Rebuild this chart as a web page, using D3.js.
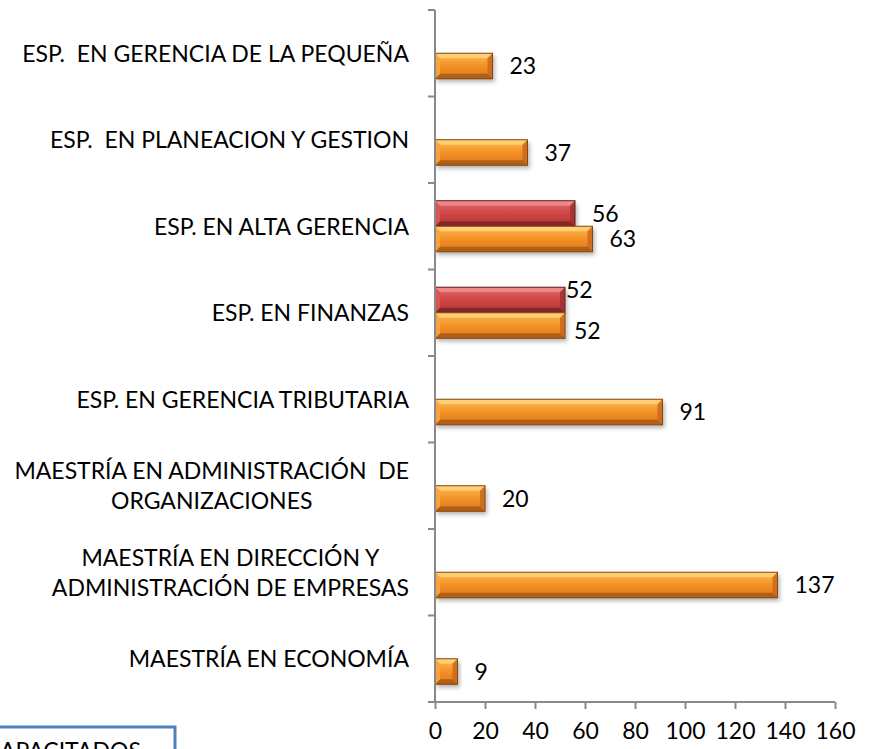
<!DOCTYPE html>
<html>
<head>
<meta charset="utf-8">
<script src="https://cdn.jsdelivr.net/npm/d3@7"></script>
<style>
  body { margin: 0; background: #fff; }
  svg { display: block; font-family: Lato, "Open Sans", sans-serif; }
</style>
</head>
<body>
<div id="chart"></div>
<script>
// categories, top to bottom (line breaks as in the original)
var categories = [
    "ESP.  EN GERENCIA DE LA PEQUEÑA",
    "ESP.  EN PLANEACION Y GESTION",
    "ESP. EN ALTA GERENCIA",
    "ESP. EN FINANZAS",
    "ESP. EN GERENCIA TRIBUTARIA",
    "MAESTRÍA EN ADMINISTRACIÓN  DE\nORGANIZACIONES",
    "MAESTRÍA EN DIRECCIÓN Y\nADMINISTRACIÓN DE EMPRESAS",
    "MAESTRÍA EN ECONOMÍA"
];
// red series (upper bar) - only two programs have a value
var redValues = [null, null, 56, 52, null, null, null, null];
// orange series (lower bar)
var orangeValues = [23, 37, 63, 52, 91, 20, 137, 9];
var xTicks = [0, 20, 40, 60, 80, 100, 120, 140, 160];
var legendText = "CAPACITADOS";

var svgWidth = 872, svgHeight = 749;
var margin = { top: 10, right: 37, bottom: 47, left: 435 };
var chartWidth = svgWidth - margin.left - margin.right;
var chartHeight = svgHeight - margin.top - margin.bottom;
var fontSize = "23px";

var svg = d3.select("#chart").append("svg")
    .attr("width", svgWidth)
    .attr("height", svgHeight);

// gradients + shadow
var defs = svg.append("defs");
var palettes = {
    orange: { g: ["#FDBA52", "#F39226", "#DB761C"], top: "#FFD47E", bottom: "#A95B17",
              left: "#F8A640", right: "#C9691B", stroke: "#86470F" },
    red:    { g: ["#E46868", "#D04646", "#B43535"], top: "#F08E8E", bottom: "#7E2626",
              left: "#DA5656", right: "#A03131", stroke: "#6A1E1E" }
};
Object.keys(palettes).forEach(function(k) {
    var grad = defs.append("linearGradient").attr("id", "grad-" + k)
        .attr("x1", 0).attr("y1", 0).attr("x2", 0).attr("y2", 1);
    grad.append("stop").attr("offset", "0%").attr("stop-color", palettes[k].g[0]);
    grad.append("stop").attr("offset", "50%").attr("stop-color", palettes[k].g[1]);
    grad.append("stop").attr("offset", "100%").attr("stop-color", palettes[k].g[2]);
});
var shadow = defs.append("filter").attr("id", "shadow")
    .attr("x", "-10%").attr("y", "-30%").attr("width", "130%").attr("height", "180%");
shadow.append("feDropShadow").attr("dx", 2).attr("dy", 3)
    .attr("stdDeviation", 2).attr("flood-color", "#000").attr("flood-opacity", 0.3);

var chartGroup = svg.append("g")
    .attr("transform", `translate(${margin.left}, ${margin.top})`);

// scales
var xLinearScale = d3.scaleLinear().domain([0, 160]).range([0, chartWidth]);
var yBand = d3.scaleBand().domain(categories).range([0, chartHeight]);
var barH = yBand.bandwidth() * 0.295;

// bars
function drawBar(g, value, yTop, pal) {
    var x0 = 0, x1 = xLinearScale(value), y0 = yTop, y1 = yTop + barH;
    var b = Math.min(5, (x1 - x0) / 2);
    var bar = g.append("g").attr("filter", "url(#shadow)");
    bar.append("rect").attr("x", x0).attr("y", y0).attr("width", x1 - x0).attr("height", barH)
        .attr("fill", "url(#grad-" + pal + ")");
    var p = palettes[pal];
    var facets = [
        [[x0, y0], [x1, y0], [x1 - b, y0 + b], [x0 + b, y0 + b], p.top],
        [[x0, y1], [x1, y1], [x1 - b, y1 - b], [x0 + b, y1 - b], p.bottom],
        [[x0, y0], [x0 + b, y0 + b], [x0 + b, y1 - b], [x0, y1], p.left],
        [[x1, y0], [x1 - b, y0 + b], [x1 - b, y1 - b], [x1, y1], p.right]
    ];
    facets.forEach(function(f) {
        bar.append("polygon")
            .attr("points", f.slice(0, 4).map(d => d.join(",")).join(" "))
            .attr("fill", f[4]).attr("opacity", 0.85);
    });
    g.append("rect").attr("x", x0).attr("y", y0).attr("width", x1 - x0).attr("height", barH)
        .attr("fill", "none").attr("stroke", p.stroke).attr("stroke-width", 1);
}

// data label nudges where Excel moved the labels apart
var labelNudge = { "ESP. EN FINANZAS": { red: [-16, -10], orange: [-8, 5] } };

var barsGroup = chartGroup.append("g");
var labelsGroup = chartGroup.append("g")
    .attr("font-size", fontSize).attr("fill", "#000");

categories.forEach(function(cat, i) {
    var center = yBand(cat) + yBand.bandwidth() / 2;
    var series = [
        { v: redValues[i], y: center - barH, pal: "red" },
        { v: orangeValues[i], y: center, pal: "orange" }
    ];
    series.forEach(function(s) {
        if (s.v == null) return;
        drawBar(barsGroup, s.v, s.y, s.pal);
        var nudge = (labelNudge[cat] && labelNudge[cat][s.pal]) || [0, 0];
        labelsGroup.append("text")
            .attr("x", xLinearScale(s.v) + 17 + nudge[0])
            .attr("y", s.y + barH / 2 + nudge[1])
            .attr("dy", "0.36em")
            .text(s.v);
    });
});

// y axis (category boundaries)
var axisColor = "#898989";
var yAxisG = chartGroup.append("g");
yAxisG.append("line").attr("x1", 0).attr("x2", 0).attr("y1", 0).attr("y2", chartHeight)
    .attr("stroke", axisColor).attr("stroke-width", 2);
var bounds = categories.map(c => yBand(c)).concat([chartHeight]);
yAxisG.selectAll("line.tick").data(bounds).enter().append("line")
    .attr("class", "tick")
    .attr("x1", -7).attr("x2", 0)
    .attr("y1", d => d).attr("y2", d => d)
    .attr("stroke", axisColor).attr("stroke-width", 2);

// x axis
var xAxis = d3.axisBottom(xLinearScale).tickValues(xTicks).tickSize(7).tickSizeOuter(0).tickPadding(14);
var xAxisG = chartGroup.append("g")
    .attr("transform", `translate(0, ${chartHeight})`)
    .call(xAxis);
xAxisG.select(".domain").remove();
xAxisG.append("line").attr("x1", -7).attr("x2", chartWidth).attr("y1", 0).attr("y2", 0)
    .attr("stroke", axisColor).attr("stroke-width", 2);
xAxisG.selectAll(".tick line").attr("stroke", axisColor).attr("stroke-width", 2);
xAxisG.selectAll(".tick text")
    .attr("font-family", "Lato, 'Open Sans', sans-serif")
    .attr("font-size", fontSize).attr("fill", "#000");

// category labels: block right-aligned, lines centered within block
var catGroup = svg.append("g").attr("font-size", fontSize).attr("fill", "#000");
var labelRight = 409, lineH = 30;
categories.forEach(function(cat) {
    var lines = cat.split("\n");
    var center = margin.top + yBand(cat) + yBand.bandwidth() / 2;
    var texts = lines.map(function(line, j) {
        return catGroup.append("text")
            .attr("xml:space", "preserve")
            .attr("y", center + (j - (lines.length - 1) / 2) * lineH)
            .attr("dy", "0.36em")
            .attr("text-anchor", "middle")
            .text(line);
    });
    var maxW = d3.max(texts, t => t.node().getComputedTextLength());
    texts.forEach(t => t.attr("x", labelRight - maxW / 2));
});

// legend box, cut by the bottom edge as in the original
var legend = svg.append("g");
legend.append("rect").attr("x", -4).attr("y", 727).attr("width", 179).attr("height", 60)
    .attr("fill", "#fff").attr("stroke", "#4F81BD").attr("stroke-width", 3);
legend.append("text").attr("x", 141).attr("y", 759).attr("text-anchor", "end")
    .attr("font-size", fontSize).attr("fill", "#000").text(legendText);
</script>
</body>
</html>
